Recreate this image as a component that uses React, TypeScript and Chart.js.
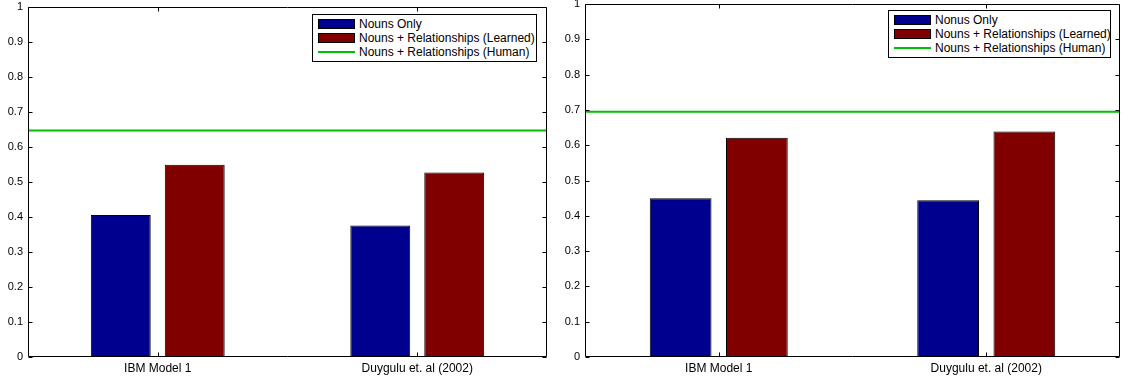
import React, { useEffect, useRef } from "react";
import { Chart, registerables } from "chart.js";
Chart.register(...registerables);

const categories = ["IBM Model 1", "Duygulu et. al (2002)"];
const yTickLabels = ["0", "0.1", "0.2", "0.3", "0.4", "0.5", "0.6", "0.7", "0.8", "0.9", "1"];

const leftLegendLabels = ["Nouns Only", "Nouns + Relationships (Learned)", "Nouns + Relationships (Human)"];
const rightLegendLabels = ["Nonus Only", "Nouns + Relationships (Learned)", "Nouns + Relationships (Human)"];

const leftNounsOnly = [0.406, 0.376];
const leftLearned = [0.549, 0.527];
const leftHuman = 0.647;

const rightNounsOnly = [0.45, 0.444];
const rightLearned = [0.621, 0.639];
const rightHuman = 0.695;

const BLUE = "#00008F";
const RED = "#800000";
const GREEN = "#00BF00";
const FONT = "'Liberation Sans', Arial, Helvetica, sans-serif";

const framePlugin = {
  id: "frame",
  afterDatasetsDraw(chart: any) {
    const { ctx, chartArea: a, scales } = chart;
    const human = chart.options.plugins.frame.human;
    const py = scales.y.getPixelForValue(human);
    ctx.save();
    ctx.strokeStyle = GREEN;
    ctx.lineWidth = 2;
    ctx.beginPath();
    ctx.moveTo(a.left, py);
    ctx.lineTo(a.right, py);
    ctx.stroke();
    ctx.restore();
  },
  afterDraw(chart: any) {
    const { ctx, chartArea: a, scales } = chart;
    const y = scales.y;
    const x = scales.x;
    ctx.save();
    ctx.strokeStyle = "#000";
    ctx.lineWidth = 1;
    const L = Math.round(a.left) + 0.5;
    const R = Math.round(a.right) - 0.5;
    const T = Math.round(a.top) + 0.5;
    const B = Math.round(a.bottom) - 0.5;
    ctx.beginPath();
    ctx.rect(L, T, R - L, B - T);
    y.ticks.forEach((t: any) => {
      const p = Math.round(y.getPixelForValue(t.value)) + 0.5;
      ctx.moveTo(L, p);
      ctx.lineTo(L + 4, p);
      ctx.moveTo(R, p);
      ctx.lineTo(R - 4, p);
    });
    x.ticks.forEach((_t: any, i: number) => {
      const p = Math.round(x.getPixelForTick(i)) + 0.5;
      ctx.moveTo(p, B);
      ctx.lineTo(p, B - 4);
      ctx.moveTo(p, T);
      ctx.lineTo(p, T + 4);
    });
    ctx.stroke();
    ctx.restore();
  },
};

type PanelProps = {
  nouns: number[];
  learned: number[];
  human: number;
  legendLabels: string[];
  left: number;
  width: number;
  areaTop: number;
  areaRight: number;
  legendLeft: number;
  legendTop: number;
  legendWidth: number;
};

function Panel(p: PanelProps) {
  const ref = useRef<HTMLCanvasElement>(null);
  useEffect(() => {
    if (!ref.current) return;
    const canvasTop = -20;
    const height = 400;
    const chart = new Chart(ref.current, {
      type: "bar",
      data: {
        labels: categories,
        datasets: [
          {
            label: p.legendLabels[0],
            data: p.nouns,
            backgroundColor: BLUE,
            borderColor: "#000",
            borderWidth: 1,
            stack: "a",
          } as any,
          {
            label: p.legendLabels[1],
            data: p.learned,
            backgroundColor: RED,
            borderColor: "#000",
            borderWidth: 1,
            stack: "b",
          } as any,
        ],
      },
      options: {
        animation: false,
        responsive: false,
        maintainAspectRatio: false,
        datasets: {
          bar: { categoryPercentage: 0.57, barPercentage: 0.81 },
        },
        layout: {
          padding: {
            top: p.areaTop - canvasTop,
            right: p.width - (p.areaRight - p.left),
            left: 0,
            bottom: 0,
          },
        },
        plugins: {
          legend: { display: false },
          tooltip: { enabled: false },
          frame: { human: p.human },
        },
        scales: {
          x: {
            type: "category",
            offset: true,
            grid: { display: false, drawTicks: false },
            border: { display: false },
            ticks: { color: "#000", font: { family: FONT, size: 12 }, padding: 4, maxRotation: 0 },
            afterFit: (s: any) => {
              s.height = height - (357 - canvasTop);
            },
          },
          y: {
            type: "linear",
            min: 0,
            max: 1,
            grid: { display: false, drawTicks: false },
            border: { display: false },
            ticks: {
              stepSize: 0.1,
              color: "#000",
              font: { family: FONT, size: 11 },
              padding: 5,
              callback: (_v: any, i: number) => yTickLabels[i],
            },
            afterFit: (s: any) => {
              s.width = 28;
            },
          },
        },
      } as any,
      plugins: [framePlugin],
    });
    return () => chart.destroy();
  }, []);

  const swatch = (i: number) =>
    i < 2 ? (
      <div
        style={{
          width: 37,
          height: 10,
          boxSizing: "border-box",
          border: "1px solid #000",
          background: i === 0 ? BLUE : RED,
        }}
      />
    ) : (
      <div style={{ width: 37, height: 2, background: GREEN }} />
    );

  return (
    <>
      <canvas
        ref={ref}
        width={p.width}
        height={400}
        style={{ position: "absolute", left: p.left, top: -20, width: p.width, height: 400 }}
      />
      <div
        style={{
          position: "absolute",
          left: p.legendLeft,
          top: p.legendTop,
          width: p.legendWidth,
          height: 48,
          boxSizing: "border-box",
          border: "1px solid #000",
          background: "#fff",
          padding: "2px 0 2px 5px",
          fontFamily: FONT,
          fontSize: 12,
          color: "#000",
        }}
      >
        {p.legendLabels.map((lab, i) => (
          <div key={i} style={{ display: "flex", alignItems: "center", height: 14, whiteSpace: "nowrap" }}>
            <div style={{ width: 37, display: "flex", alignItems: "center" }}>{swatch(i)}</div>
            <span style={{ marginLeft: 4, lineHeight: "14px" }}>{lab}</span>
          </div>
        ))}
      </div>
    </>
  );
}

export default function App() {
  return (
    <div style={{ position: "fixed", left: 0, top: 0, width: 1127, height: 380, background: "#fff", overflow: "hidden" }}>
      <Panel
        nouns={leftNounsOnly}
        learned={leftLearned}
        human={leftHuman}
        legendLabels={leftLegendLabels}
        left={0}
        width={557}
        areaTop={7}
        areaRight={547}
        legendLeft={312}
        legendTop={14}
        legendWidth={225}
      />
      <Panel
        nouns={rightNounsOnly}
        learned={rightLearned}
        human={rightHuman}
        legendLabels={rightLegendLabels}
        left={557}
        width={570}
        areaTop={4}
        areaRight={1120}
        legendLeft={888}
        legendTop={10}
        legendWidth={223}
      />
    </div>
  );
}
